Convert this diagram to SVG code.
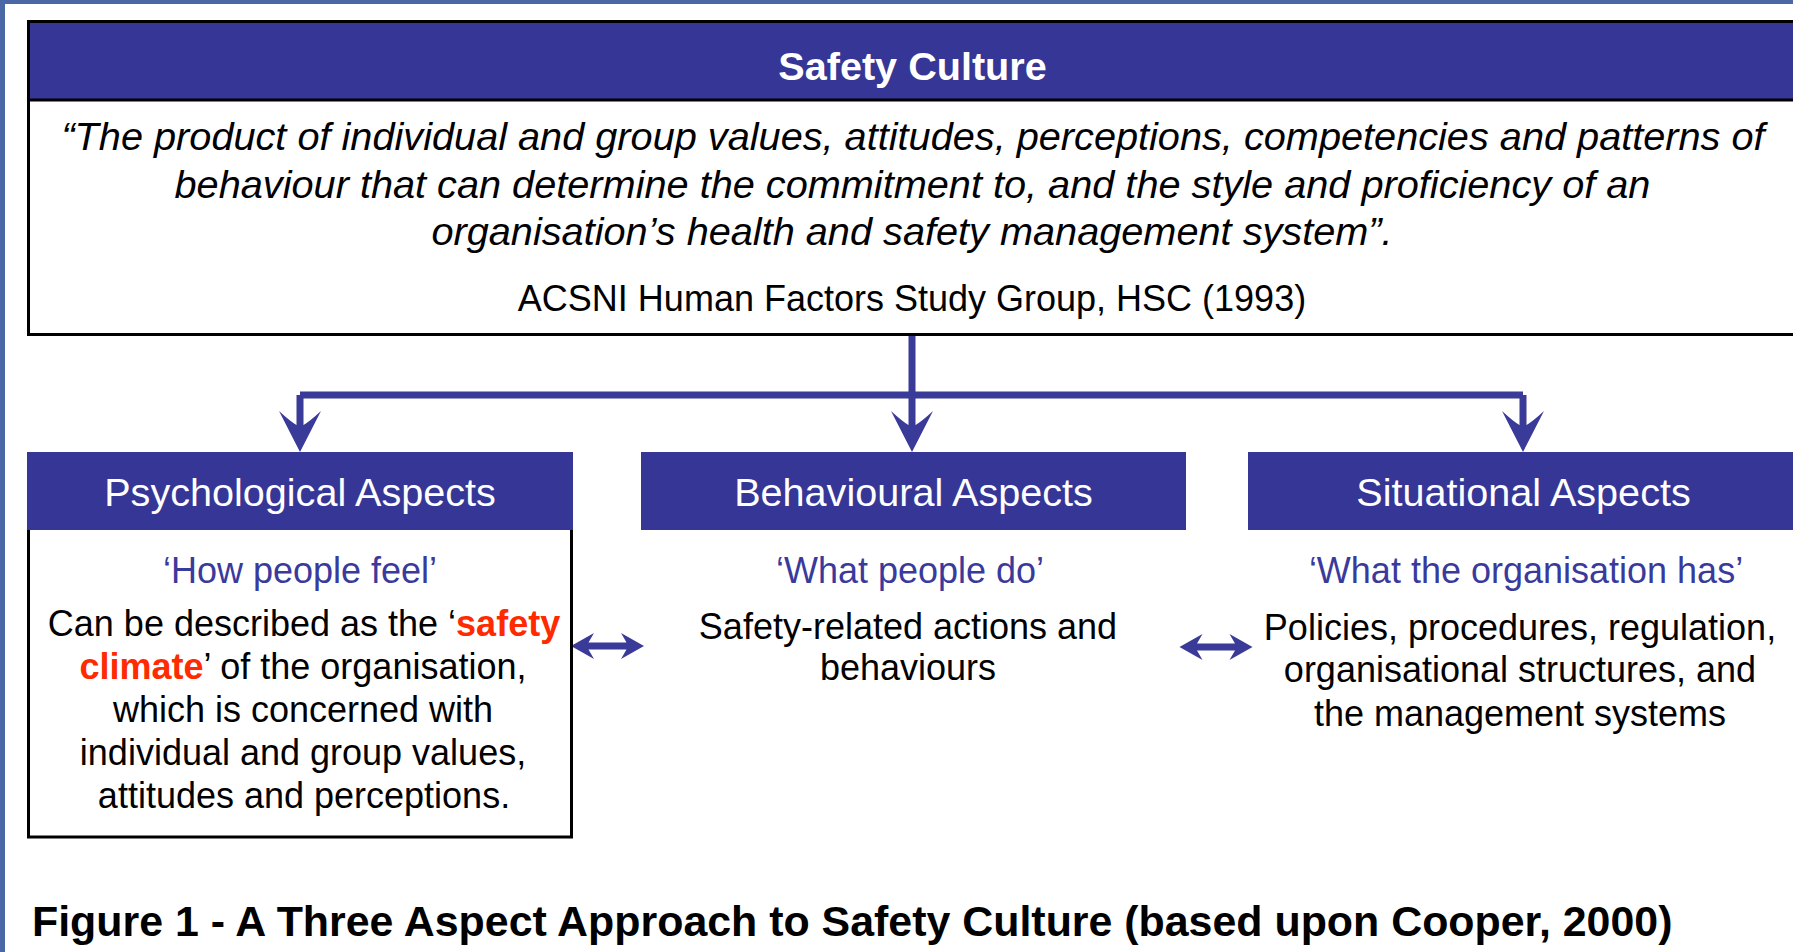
<svg xmlns="http://www.w3.org/2000/svg" width="1793" height="952" viewBox="0 0 1793 952">
<style>
.hdr{fill:#363696}
.bx{fill:#fff;stroke:#000;stroke-width:3}
.t{font-family:"Liberation Sans",Arial,sans-serif}
.ht{font-size:39.6px;fill:#fff;text-anchor:middle}
.q{font-size:39.7px;font-style:italic;fill:#000;text-anchor:middle}
.b{font-size:36px;fill:#000;text-anchor:middle}
.sub{font-size:36px;fill:#3a3a9c;text-anchor:middle}
.red{fill:#ff2a00;font-weight:bold}
.con{fill:none;stroke:#3a3a98;stroke-width:7}
.ah{fill:#3a3a98}
</style>
<defs>
<path id="down" d="M0,0 L-21,-41 Q-9,-30 -3.5,-27 L3.5,-27 Q9,-30 21,-41 Z"/>
<path id="dbl" d="M-36.5,0 L-13.5,-13 L-19,-3.5 L19,-3.5 L13.5,-13 L36.5,0 L13.5,13 L19,3.5 L-19,3.5 L-13.5,13 Z"/>
</defs>
<rect width="1793" height="952" fill="#fff"/>
<g id="frame">
<rect x="0" y="0" width="1793" height="4" fill="#4a67a6"/>
<rect x="0" y="0" width="5" height="952" fill="#4a67a6"/>
</g>
<g id="safety-culture">
<rect class="bx" x="28.5" y="21.5" width="1770" height="313"/>
<rect class="hdr" x="30" y="23" width="1768" height="76"/>
<line x1="28" y1="100" x2="1800" y2="100" stroke="#000" stroke-width="3"/>
<text class="t ht" x="912.5" y="80" font-weight="bold" font-size="39.7">Safety Culture</text>
<text class="t q" x="913" y="149.5">“The product of individual and group values, attitudes, perceptions, competencies and patterns of</text>
<text class="t q" x="912.5" y="197.5">behaviour that can determine the commitment to, and the style and proficiency of an</text>
<text class="t q" x="912" y="245">organisation’s health and safety management system”.</text>
<text class="t b" x="912" y="311">ACSNI Human Factors Study Group, HSC (1993)</text>
</g>
<g id="connectors">
<path class="con" d="M912,336 V395 M300,395 H1523 M300,395 V430 M912,395 V430 M1523,395 V430"/>
<use href="#down" class="ah" x="300" y="452"/>
<use href="#down" class="ah" x="912" y="452"/>
<use href="#down" class="ah" x="1523" y="452"/>
<use href="#dbl" class="ah" x="607.5" y="646"/>
<use href="#dbl" class="ah" x="1216" y="647"/>
</g>
<g id="psychological">
<rect class="bx" x="28.5" y="528" width="543" height="309"/>
<rect class="hdr" x="27" y="452" width="546" height="78"/>
<text class="t ht" x="300" y="506">Psychological Aspects</text>
<text class="t sub" x="300" y="583">‘How people feel’</text>
<text class="t b" x="304" y="636">Can be described as the ‘<tspan class="red">safety</tspan></text>
<text class="t b" x="303" y="679"><tspan class="red">climate</tspan>’ of the organisation,</text>
<text class="t b" x="303" y="722">which is concerned with</text>
<text class="t b" x="303" y="765">individual and group values,</text>
<text class="t b" x="304" y="808">attitudes and perceptions.</text>
</g>
<g id="behavioural">
<rect class="hdr" x="641" y="452" width="545" height="78"/>
<text class="t ht" x="913.5" y="506">Behavioural Aspects</text>
<text class="t sub" x="910" y="583">‘What people do’</text>
<text class="t b" x="908" y="639">Safety-related actions and</text>
<text class="t b" x="908" y="680">behaviours</text>
</g>
<g id="situational">
<rect class="hdr" x="1248" y="452" width="550" height="78"/>
<text class="t ht" x="1523.5" y="506">Situational Aspects</text>
<text class="t sub" x="1526" y="583">‘What the organisation has’</text>
<text class="t b" x="1520" y="640">Policies, procedures, regulation,</text>
<text class="t b" x="1520" y="682">organisational structures, and</text>
<text class="t b" x="1520" y="726">the management systems</text>
</g>
<g id="caption">
<text class="t" x="32" y="936" font-size="42.9" font-weight="bold" fill="#000">Figure 1 - A Three Aspect Approach to Safety Culture (based upon Cooper, 2000)</text>
</g>
</svg>
